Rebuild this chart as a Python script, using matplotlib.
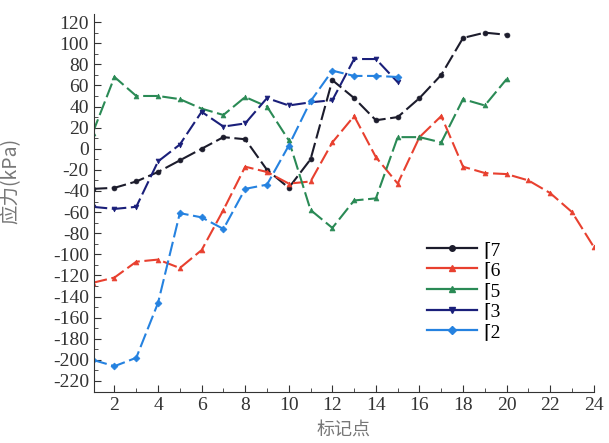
import matplotlib
matplotlib.use("Agg")
import matplotlib.pyplot as plt
from matplotlib.lines import Line2D
from matplotlib.ticker import MultipleLocator

plt.rcParams['font.family'] = ['Liberation Serif', 'DejaVu Serif']
plt.rcParams['axes.unicode_minus'] = False

# marker points along the line
x7 = list(range(1, 21))
y7 = [-38, -37, -31, -22, -11, 0, 11, 9, -20, -37, -10, 65, 48, 27, 30, 48, 70, 105, 110, 108]

x6 = list(range(1, 25))
y6 = [-127, -122, -107, -105, -113, -96, -58, -17, -22, -33, -31, 6, 31, -8, -33, 11, 31,
      -17, -23, -24, -30, -42, -60, -93]

x5 = list(range(1, 21))
y5 = [15, 68, 50, 50, 47, 38, 32, 49, 40, 8, -58, -75, -49, -47, 11, 11, 6, 47, 41, 66]

x3 = list(range(1, 16))
y3 = [-55, -57, -55, -12, 4, 35, 21, 24, 48, 41, 44, 46, 85, 85, 63]

x2 = list(range(1, 16))
y2 = [-200, -206, -198, -146, -61, -65, -76, -38, -34, 3, 45, 74, 69, 69, 68]

labels = ['\u23087', '\u23086', '\u23085', '\u23083', '\u23082']
colors = ['#1c1c2c', '#e8402f', '#2a8a55', '#1a1f7a', '#2582e0']
markers = ['o', '^', '^', 'v', 'D']

fig = plt.figure(figsize=(6.09, 4.43), dpi=100)
ax = fig.add_axes([0.154, 0.115, 0.821, 0.853])

series = [(x7, y7), (x6, y6), (x5, y5), (x3, y3), (x2, y2)]
for (xs, ys), c, m in zip(series, colors, markers):
    ax.plot(xs, ys, color=c, lw=1.5, dashes=(7, 2.2), marker=m, ms=3.5,
            markeredgewidth=0.5)

ax.set_xlim(1.05, 24)
ax.set_ylim(-230.5, 127.5)
ax.xaxis.set_major_locator(MultipleLocator(2))
ax.xaxis.set_minor_locator(MultipleLocator(1))
ax.yaxis.set_major_locator(MultipleLocator(20))
ax.yaxis.set_minor_locator(MultipleLocator(10))
ax.tick_params(which='both', direction='in', colors='#333333', labelsize=14)
ax.tick_params(which='major', length=5)
ax.tick_params(which='minor', length=3)
for s in ['top', 'right']:
    ax.spines[s].set_visible(False)
for s in ['left', 'bottom']:
    ax.spines[s].set_color('#333333')

ax.set_xlabel('标记点', family=['Noto Sans CJK SC'], fontsize=13, color='#777777')
ax.xaxis.set_label_coords(0.5, -0.075)
ax.set_ylabel('应力(kPa)', family=['Noto Sans CJK SC', 'DejaVu Sans'], fontsize=14,
              color='#777777')
ax.yaxis.set_label_coords(-0.145, 0.56)

handles = [Line2D([], [], color=c, lw=1.6, marker=m, ms=4) for c, m in zip(colors, markers)]
ax.legend(handles, labels, loc='upper left', bbox_to_anchor=(0.65, 0.42), frameon=False,
          fontsize=14, handlelength=2.6, labelspacing=0.15, handletextpad=0.3,
          borderaxespad=0)

fig.savefig('out.png', dpi=100)
